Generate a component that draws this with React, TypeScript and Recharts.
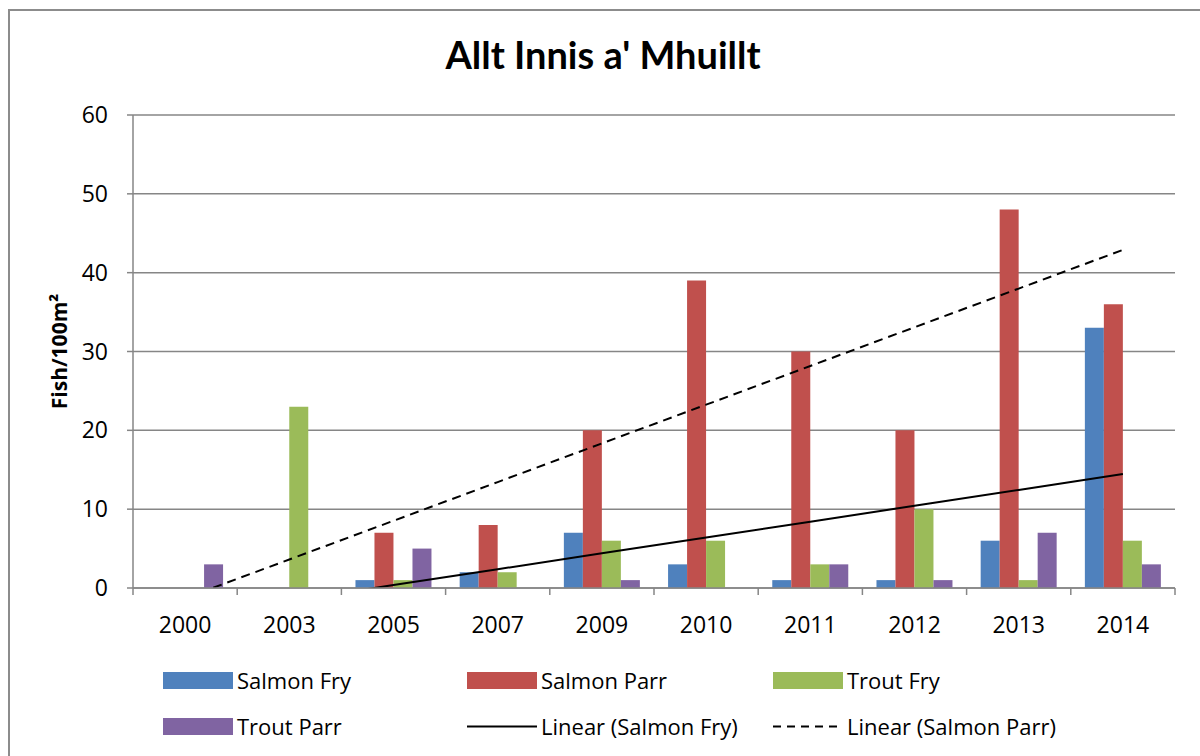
import {
  Bar,
  CartesianGrid,
  ComposedChart,
  Line,
  XAxis,
  YAxis,
} from "recharts";

// Excel 2007 palette
const BLUE = "#4f81bd";
const RED = "#c0504d";
const GREEN = "#9bbb59";
const PURPLE = "#8064a2";
const GRID = "#868686";
const FONT = "'Open Sans', sans-serif";

const years = ["2000", "2003", "2005", "2007", "2009", "2010", "2011", "2012", "2013", "2014"];
const salmonFry = [0, 0, 1, 2, 7, 3, 1, 1, 6, 33];
const salmonParr = [0, 0, 7, 8, 20, 39, 30, 20, 48, 36];
const troutFry = [0, 23, 1, 2, 6, 6, 3, 10, 1, 6];
const troutParr = [3, 0, 5, 0, 1, 0, 3, 1, 7, 3];
const yTicks = [0, 10, 20, 30, 40, 50, 60];

const CHART_W = 1200;
const CHART_H = 756;
const MARGIN = { top: 115, right: 25, left: 0, bottom: 108 };
const Y_AXIS_W = 133;

// least-squares fit against category index, like Excel's linear trendline
function linearTrend(values: number[]): number[] {
  const n = values.length;
  const xs = values.map((_, i) => i + 1);
  const mx = xs.reduce((a, b) => a + b, 0) / n;
  const my = values.reduce((a, b) => a + b, 0) / n;
  let sxy = 0;
  let sxx = 0;
  xs.forEach((x, i) => {
    sxy += (x - mx) * (values[i] - my);
    sxx += (x - mx) * (x - mx);
  });
  const slope = sxy / sxx;
  const icept = my - slope * mx;
  return xs.map((x) => icept + slope * x);
}

const fryTrend = linearTrend(salmonFry);
const parrTrend = linearTrend(salmonParr);

const data = years.map((year, i) => ({
  year,
  salmonFry: salmonFry[i],
  salmonParr: salmonParr[i],
  troutFry: troutFry[i],
  troutParr: troutParr[i],
  fryTrend: fryTrend[i],
  parrTrend: parrTrend[i],
}));

type LegendItem = { label: string; color: string; kind: "bar" | "solid" | "dash" };
const legendRows: LegendItem[][] = [
  [
    { label: "Salmon Fry", color: BLUE, kind: "bar" },
    { label: "Salmon Parr", color: RED, kind: "bar" },
    { label: "Trout Fry", color: GREEN, kind: "bar" },
  ],
  [
    { label: "Trout Parr", color: PURPLE, kind: "bar" },
    { label: "Linear (Salmon Fry)", color: "#000", kind: "solid" },
    { label: "Linear (Salmon Parr)", color: "#000", kind: "dash" },
  ],
];
const legendCols = [163, 467, 773];
const legendRowY = [680, 726];

// Excel puts the category tick marks on the band edges, not the centres
const halfBand = (CHART_W - MARGIN.left - MARGIN.right - Y_AXIS_W) / years.length / 2;

function YearTick(props: any) {
  const { x, y, payload, index } = props;
  const last = index === years.length - 1;
  return (
    <g>
      <line x1={x - halfBand} x2={x - halfBand} y1={y} y2={y + 7} stroke={GRID} strokeWidth={1.5} />
      {last && (
        <line x1={x + halfBand} x2={x + halfBand} y1={y} y2={y + 7} stroke={GRID} strokeWidth={1.5} />
      )}
      <text x={x} y={y + 45} textAnchor="middle" fontSize={23} fontFamily={FONT} fill="#000">
        {payload.value}
      </text>
    </g>
  );
}

function Swatch({ item }: { item: LegendItem }) {
  if (item.kind === "bar") {
    return <div style={{ width: 70, height: 17, background: item.color }} />;
  }
  return (
    <svg width={70} height={17}>
      <line
        x1={0}
        x2={70}
        y1={8.5}
        y2={8.5}
        stroke={item.color}
        strokeWidth={2}
        strokeDasharray={item.kind === "dash" ? "8 6" : undefined}
      />
    </svg>
  );
}

export default function App() {
  return (
    <div
      style={{
        position: "absolute",
        left: 0,
        top: 0,
        width: CHART_W,
        height: CHART_H,
        overflow: "hidden",
        background: "#fff",
        fontFamily: FONT,
      }}
    >
      {/* chart frame */}
      <div
        style={{
          position: "absolute",
          left: 8,
          top: 9,
          width: 1300,
          height: 900,
          border: "2px solid #8c8c8c",
        }}
      />
      <svg width={CHART_W} height={100} style={{ position: "absolute", left: 0, top: 0 }}>
        <text
          x={603}
          y={69}
          textAnchor="middle"
          fontFamily="Lato, sans-serif"
          fontWeight="bold"
          fontSize={38}
          fill="#000"
        >
          Allt Innis a' Mhuillt
        </text>
      </svg>

      <div style={{ position: "absolute", left: 0, top: 0 }}>
        <ComposedChart
          width={CHART_W}
          height={CHART_H}
          data={data}
          margin={MARGIN}
          barCategoryGap="13.5%"
          barGap={0}
        >
          <CartesianGrid stroke={GRID} vertical={false} strokeWidth={1.5} />
          <XAxis
            dataKey="year"
            tickLine={false}
            axisLine={{ stroke: GRID, strokeWidth: 1.5 }}
            tickSize={0}
            tickMargin={0}
            height={60}
            interval={0}
            tick={<YearTick />}
          />
          <YAxis
            width={Y_AXIS_W}
            domain={[0, 60]}
            allowDataOverflow
            ticks={yTicks}
            interval={0}
            axisLine={{ stroke: GRID, strokeWidth: 1.5 }}
            tickLine={{ stroke: GRID, strokeWidth: 1.5 }}
            tickSize={6}
            tickMargin={19}
            tick={{ fill: "#000", fontSize: 23, fontFamily: FONT }}
            label={{
              value: "Fish/100m²",
              angle: -90,
              position: "center",
              dx: -7,
              style: { fontWeight: "bold", fontSize: 21, fill: "#000", fontFamily: FONT },
            }}
          />
          <Bar dataKey="salmonFry" fill={BLUE} isAnimationActive={false} />
          <Bar dataKey="salmonParr" fill={RED} isAnimationActive={false} />
          <Bar dataKey="troutFry" fill={GREEN} isAnimationActive={false} />
          <Bar dataKey="troutParr" fill={PURPLE} isAnimationActive={false} />
          <Line
            dataKey="fryTrend"
            stroke="#000"
            strokeWidth={2}
            dot={false}
            activeDot={false}
            isAnimationActive={false}
          />
          <Line
            dataKey="parrTrend"
            stroke="#000"
            strokeWidth={2}
            strokeDasharray="9 6"
            dot={false}
            activeDot={false}
            isAnimationActive={false}
          />
        </ComposedChart>
      </div>

      {legendRows.map((row, r) =>
        row.map((item, c) => (
          <div
            key={item.label}
            style={{
              position: "absolute",
              left: legendCols[c],
              top: legendRowY[r] - 15,
              height: 30,
              display: "flex",
              alignItems: "center",
              gap: 4,
              fontSize: 22,
              color: "#000",
              whiteSpace: "nowrap",
            }}
          >
            <Swatch item={item} />
            <span>{item.label}</span>
          </div>
        ))
      )}
    </div>
  );
}
